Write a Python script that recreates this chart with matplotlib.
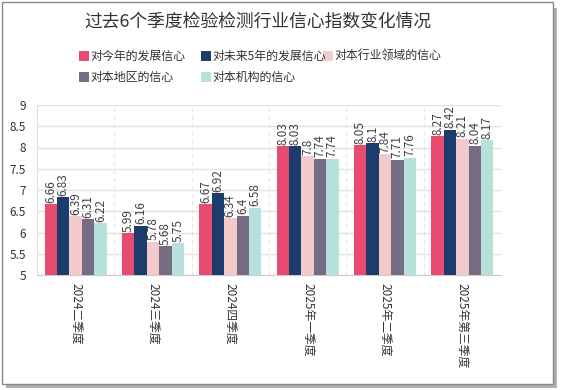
import numpy as np
import matplotlib
matplotlib.use('Agg')
import matplotlib.pyplot as plt
from matplotlib.patches import Rectangle

plt.rcParams['font.family'] = ['Noto Sans CJK SC', 'DejaVu Sans']

# datos del gráfico
trimestres = ['2024二季度', '2024三季度', '2024四季度', '2025年一季度', '2025年二季度', '2025年第三季度']
series = ['对今年的发展信心', '对未来5年的发展信心', '对本行业领域的信心', '对本地区的信心', '对本机构的信心']
jinnian = [6.66, 5.99, 6.67, 8.03, 8.05, 8.27]
weilai5 = [6.83, 6.16, 6.92, 8.03, 8.1, 8.42]
hangye = [6.39, 5.78, 6.34, 7.8, 7.84, 8.21]
diqu = [6.31, 5.68, 6.4, 7.74, 7.71, 8.04]
jigou = [6.22, 5.75, 6.58, 7.74, 7.76, 8.17]
colores = ['#E84B70', '#1B3C6C', '#F3CACA', '#766C84', '#B9E1DC']

valores = [jinnian, weilai5, hangye, diqu, jigou]

W, H = 564, 390
fig = plt.figure(figsize=(W / 100, H / 100), dpi=100)

# marco con sombra
fig.patches.append(Rectangle((6 / W, 2 / H), 551 / W, 380 / H, transform=fig.transFigure,
                             facecolor='#b0b0b0', edgecolor='none', zorder=-3))
fig.patches.append(Rectangle((2 / W, 6 / H), 551 / W, 382 / H, transform=fig.transFigure,
                             facecolor='white', edgecolor='#8a8a8a', linewidth=1, zorder=-2))

ax = fig.add_axes([37 / W, 1 - 275 / H, 464 / W, 170 / H])
ax.set_facecolor('none')

x = np.arange(len(trimestres))
ancho = 0.8 / len(series)
for i, (nombre, vals, col) in enumerate(zip(series, valores, colores)):
    pos = x - 0.4 + ancho * (i + 0.5)
    ax.bar(pos, vals, width=ancho, color=col, label=nombre, zorder=3)
    for px, v in zip(pos, vals):
        ax.annotate('{:g}'.format(v), (px, v), xytext=(0, 1), textcoords='offset points',
                    rotation=90, ha='center', va='bottom', fontsize=8.5, color='#404040', zorder=4)

ax.set_ylim(5, 9)
ax.set_yticks(np.arange(5, 9.01, 0.5))
ax.set_yticklabels(['{:g}'.format(t) for t in np.arange(5, 9.01, 0.5)])
ax.set_xlim(-0.5, len(trimestres) - 0.5)
ax.set_xticks(x)
ax.set_xticklabels(trimestres, rotation=-90, va='top', ha='center')
ax.tick_params(axis='both', length=0, labelsize=8.5, labelcolor='#333333')
ax.tick_params(axis='x', pad=6)
ax.tick_params(axis='y', pad=8)

ax.grid(axis='y', color='#e3e3e3', linewidth=1, zorder=0)
for b in np.arange(0.5, len(trimestres) - 0.5, 1):
    ax.axvline(b, color='#e8e8e8', linewidth=0.8, linestyle=(0, (4, 3)), zorder=0)
for s in ['top', 'right']:
    ax.spines[s].set_visible(False)
ax.spines['left'].set_color('#dddddd')
ax.spines['bottom'].set_color('#cccccc')

fig.text(258 / W, 1 - 22 / H, '过去6个季度检验检测行业信心指数变化情况', ha='center', va='center',
         fontsize=12.8, color='#333333')

# leyenda manual, tres por fila
for i, (nombre, col) in enumerate(zip(series, colores)):
    lx = 79 + 122 * (i % 3)
    ly = 56 + 21 * (i // 3)
    fig.patches.append(Rectangle((lx / W, 1 - (ly + 5) / H), 10 / W, 10 / H, transform=fig.transFigure,
                                 facecolor=col, edgecolor='none'))
    fig.text((lx + 11) / W, 1 - ly / H, nombre, ha='left', va='center', fontsize=8.6, color='#333333')

fig.savefig('out.png', dpi=100)
